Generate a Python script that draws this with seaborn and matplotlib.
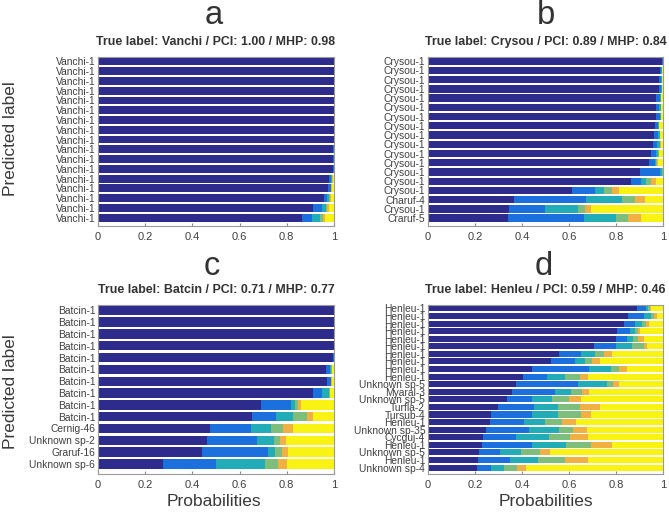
import numpy as np
import matplotlib
matplotlib.use("Agg")
import matplotlib.pyplot as plt
import seaborn as sns

# class colours (parula-like), from most likely to least likely
seg_colors = ['#2D2B8C', '#1C70DE', '#22ACB8', '#7DBE7C', '#F0B042', '#F8F312']

# panel a
labels_a = ['Vanchi-1'] * 17
title_a = 'True label: Vanchi / PCI: 1.00 / MHP: 0.98'
probs_a = [
    [1.000, 0, 0, 0, 0, 0],
    [1.000, 0, 0, 0, 0, 0],
    [1.000, 0, 0, 0, 0, 0],
    [1.000, 0, 0, 0, 0, 0],
    [1.000, 0, 0, 0, 0, 0],
    [1.000, 0, 0, 0, 0, 0],
    [1.000, 0, 0, 0, 0, 0],
    [1.000, 0, 0, 0, 0, 0],
    [1.000, 0, 0, 0, 0, 0],
    [0.996, 0.004, 0, 0, 0, 0],
    [0.996, 0.004, 0, 0, 0, 0],
    [0.996, 0.004, 0, 0, 0, 0],
    [0.977, 0.009, 0.005, 0.002, 0.002, 0.005],
    [0.973, 0.013, 0.002, 0.001, 0.001, 0.010],
    [0.956, 0.016, 0.008, 0.004, 0.003, 0.013],
    [0.911, 0.040, 0.014, 0.006, 0.006, 0.023],
    [0.863, 0.045, 0.034, 0.011, 0.007, 0.040],
]

# panel b
labels_b = ['Crysou-1'] * 15 + ['Charuf-4', 'Crysou-1', 'Craruf-5']
title_b = 'True label: Crysou / PCI: 0.89 / MHP: 0.84'
probs_b = [
    [0.997, 0.003, 0, 0, 0, 0],
    [0.986, 0.007, 0.003, 0, 0, 0.004],
    [0.984, 0.008, 0.003, 0, 0, 0.005],
    [0.983, 0.009, 0.003, 0, 0, 0.005],
    [0.972, 0.014, 0.007, 0, 0, 0.007],
    [0.972, 0.013, 0.006, 0, 0, 0.009],
    [0.969, 0.018, 0.004, 0, 0, 0.009],
    [0.965, 0.014, 0.004, 0.002, 0, 0.015],
    [0.962, 0.017, 0.007, 0.002, 0, 0.012],
    [0.958, 0.016, 0.012, 0.003, 0.001, 0.010],
    [0.950, 0.022, 0.007, 0.002, 0.001, 0.018],
    [0.939, 0.025, 0.008, 0.004, 0.002, 0.022],
    [0.903, 0.083, 0.010, 0.002, 0, 0.002],
    [0.865, 0.040, 0.024, 0.021, 0.022, 0.028],
    [0.613, 0.098, 0.036, 0.034, 0.033, 0.186],
    [0.367, 0.306, 0.153, 0.053, 0.046, 0.075],
    [0.343, 0.155, 0.139, 0.032, 0.025, 0.306],
    [0.339, 0.324, 0.136, 0.054, 0.055, 0.092],
]

# panel c
labels_c = ['Batcin-1'] * 10 + ['Cernig-46', 'Unknown sp-2', 'Graruf-16', 'Unknown sp-6']
title_c = 'True label: Batcin / PCI: 0.71 / MHP: 0.77'
probs_c = [
    [1.000, 0, 0, 0, 0, 0],
    [1.000, 0, 0, 0, 0, 0],
    [1.000, 0, 0, 0, 0, 0],
    [0.998, 0.002, 0, 0, 0, 0],
    [0.997, 0.003, 0, 0, 0, 0],
    [0.968, 0.014, 0.007, 0.003, 0.001, 0.007],
    [0.969, 0.017, 0.002, 0.001, 0.001, 0.010],
    [0.912, 0.039, 0.026, 0.005, 0.003, 0.015],
    [0.691, 0.128, 0.016, 0.012, 0.012, 0.141],
    [0.651, 0.102, 0.075, 0.058, 0.026, 0.088],
    [0.475, 0.172, 0.086, 0.052, 0.040, 0.175],
    [0.460, 0.215, 0.072, 0.026, 0.024, 0.203],
    [0.439, 0.283, 0.029, 0.029, 0.026, 0.194],
    [0.275, 0.225, 0.209, 0.054, 0.036, 0.201],
]

# panel d
labels_d = ['Henleu-1'] * 10 + ['Unknown sp-5', 'Myaral-3', 'Unknown sp-5', 'Turfla-2',
                                'Tursub-4', 'Henleu-1', 'Unknown sp-35', 'Cycguj-4',
                                'Henleu-1', 'Unknown sp-5', 'Henleu-1', 'Unknown sp-4']
title_d = 'True label: Henleu / PCI: 0.59 / MHP: 0.46'
probs_d = [
    [0.891, 0.038, 0.007, 0.007, 0.004, 0.053],
    [0.851, 0.067, 0.031, 0.014, 0.011, 0.026],
    [0.835, 0.045, 0.031, 0.015, 0.015, 0.059],
    [0.803, 0.058, 0.019, 0.014, 0.007, 0.099],
    [0.799, 0.048, 0.026, 0.021, 0.024, 0.082],
    [0.706, 0.096, 0.065, 0.051, 0.014, 0.068],
    [0.557, 0.094, 0.059, 0.038, 0.034, 0.218],
    [0.523, 0.102, 0.042, 0.029, 0.035, 0.269],
    [0.443, 0.244, 0.092, 0.034, 0.034, 0.153],
    [0.406, 0.099, 0.076, 0.065, 0.033, 0.321],
    [0.376, 0.262, 0.124, 0.026, 0.024, 0.188],
    [0.358, 0.184, 0.066, 0.048, 0.027, 0.317],
    [0.337, 0.104, 0.087, 0.072, 0.049, 0.351],
    [0.298, 0.153, 0.103, 0.092, 0.088, 0.266],
    [0.267, 0.177, 0.110, 0.097, 0.043, 0.306],
    [0.262, 0.148, 0.089, 0.072, 0.058, 0.371],
    [0.248, 0.182, 0.126, 0.062, 0.058, 0.324],
    [0.235, 0.140, 0.138, 0.091, 0.075, 0.321],
    [0.228, 0.216, 0.142, 0.108, 0.090, 0.216],
    [0.218, 0.089, 0.089, 0.081, 0.042, 0.481],
    [0.214, 0.134, 0.120, 0.113, 0.099, 0.320],
    [0.208, 0.059, 0.057, 0.054, 0.039, 0.583],
]

xticks = [0, 0.2, 0.4, 0.6, 0.8, 1]
xticklabels = ['0', '0.2', '0.4', '0.6', '0.8', '1']

sns.set_style('white')
plt.rcParams['font.family'] = ['Liberation Sans', 'DejaVu Sans']

W, H = 669, 516
fig = plt.figure(figsize=(W / 100, H / 100), dpi=100)


def px_axes(left, top, right, bottom):
    return fig.add_axes([left / W, 1 - bottom / H, (right - left) / W, (bottom - top) / H])


def draw_panel(ax, probs, labels, title):
    probs = np.array(probs)
    n = len(labels)
    rows = np.arange(n)
    cum = np.cumsum(probs, axis=1)
    # stacked bars drawn back to front
    for k in range(probs.shape[1] - 1, -1, -1):
        sns.barplot(x=cum[:, k], y=rows, orient='h', color=seg_colors[k],
                    saturation=1, width=0.8, linewidth=0, ax=ax)
    ax.set_xlim(0, 1)
    ax.set_ylim(n - 0.15, -0.45)
    ax.set_yticks(rows)
    ax.set_yticklabels(labels, fontsize=7.4, color='#404040')
    ax.set_xticks(xticks)
    ax.set_xticklabels(xticklabels, fontsize=8, color='#404040')
    ax.tick_params(axis='y', length=0, pad=2)
    ax.tick_params(axis='x', direction='in', length=2.5, color='#888888',
                   top=True, bottom=True, pad=4)
    ax.set_xlabel('')
    ax.set_ylabel('')
    for s in ax.spines.values():
        s.set_color('#9a9a9a')
        s.set_linewidth(0.8)
    # title baseline about 12 px above the frame
    dy = 12 / (ax.get_position().height * H)
    ax.text(0.5, 1.0 + dy, title, transform=ax.transAxes, ha='center', va='baseline',
            fontsize=8.9, fontweight='bold', color='#333333')


ax_a = px_axes(98, 57, 334, 226)
ax_b = px_axes(428, 57, 663, 226)
ax_c = px_axes(98, 305, 334, 474)
ax_d = px_axes(428, 305, 663, 474)

for ax, p, lab, t in [(ax_a, probs_a, labels_a, title_a), (ax_b, probs_b, labels_b, title_b),
                      (ax_c, probs_c, labels_c, title_c), (ax_d, probs_d, labels_d, title_d)]:
    draw_panel(ax, p, lab, t)

for letter, x, y in [('a', 214, 24), ('b', 546, 24), ('c', 212, 275), ('d', 544, 275)]:
    fig.text(x / W, 1 - y / H, letter, ha='center', va='baseline', fontsize=23.5, color='#333333')

fig.text(11 / W, 1 - 139 / H, 'Predicted label', rotation=90, ha='center', va='center',
         fontsize=12.5, color='#3a3a3a')
fig.text(11 / W, 1 - 392 / H, 'Predicted label', rotation=90, ha='center', va='center',
         fontsize=12.5, color='#3a3a3a')
fig.text(214 / W, 1 - 502 / H, 'Probabilities', ha='center', va='center', fontsize=12.5, color='#3a3a3a')
fig.text(546 / W, 1 - 502 / H, 'Probabilities', ha='center', va='center', fontsize=12.5, color='#3a3a3a')

fig.savefig('out.png', dpi=100)
